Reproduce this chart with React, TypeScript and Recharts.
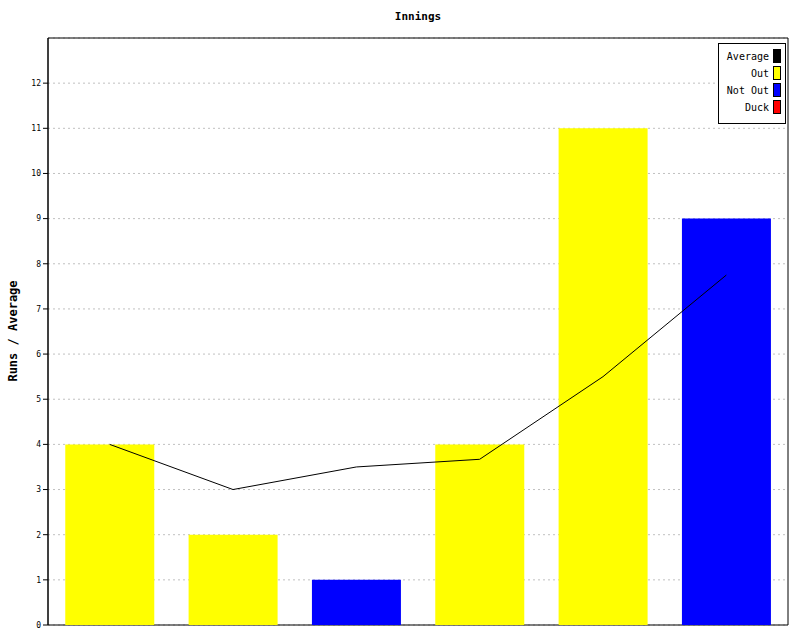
import React from "react";
import { ComposedChart, Bar, Line, XAxis, YAxis, CartesianGrid, Cell, ReferenceArea } from "recharts";

const innings = ["1", "2", "3", "4", "5", "6"];
const runs = [4, 2, 1, 4, 11, 9];
const notOut = [false, false, true, false, false, true];
const average = [4, 3, 3.5, 3.67, 5.5, 7.75];
const yTicks = [0, 1, 2, 3, 4, 5, 6, 7, 8, 9, 10, 11, 12];

const legendItems = [
  { label: "Average", color: "#000000" },
  { label: "Out", color: "#ffff00" },
  { label: "Not Out", color: "#0000ff" },
  { label: "Duck", color: "#ff0000" },
];

const data = innings.map((n, i) => ({ name: n, runs: runs[i], avg: average[i], notOut: notOut[i] }));

const FONT = "'DejaVu Sans Mono', monospace";

const LegendBox = () => (
  <div
    style={{
      position: "absolute",
      left: 718,
      top: 43,
      width: 66,
      height: 79,
      border: "1px solid #000",
      background: "#fff",
      fontFamily: FONT,
      fontSize: 10,
    }}
  >
    {legendItems.map((it, i) => (
      <div key={it.label} style={{ position: "absolute", top: 5 + i * 17, right: 4, display: "flex", alignItems: "center", height: 14 }}>
        <span style={{ marginRight: 4, color: "#000" }}>{it.label}</span>
        <span style={{ display: "inline-block", width: 6, height: 12, background: it.color, border: "1px solid #000" }} />
      </div>
    ))}
  </div>
);

export default function App() {
  return (
    <div style={{ position: "absolute", left: 0, top: 0, width: 800, height: 640, background: "#fff" }}>
      <div style={{ position: "absolute", left: 48, width: 740, top: 10, textAlign: "center", fontFamily: FONT, fontWeight: "bold", fontSize: 11 }}>
        Innings
      </div>
      <div
        style={{
          position: "absolute",
          left: 13,
          top: 331,
          transform: "translate(-50%, -50%) rotate(-90deg)",
          fontFamily: FONT,
          fontWeight: "bold",
          fontSize: 12,
          whiteSpace: "nowrap",
        }}
      >
        Runs / Average
      </div>
      <ComposedChart
        width={800}
        height={640}
        data={data}
        margin={{ top: 38, right: 12, bottom: 15, left: 0 }}
        barCategoryGap="14%"
      >
        <CartesianGrid horizontal vertical={false} stroke="#c0c0c0" strokeDasharray="2 3" />
        <XAxis dataKey="name" height={0} tick={false} tickLine={false} axisLine={{ stroke: "#000" }} />
        <YAxis
          width={48}
          domain={[0, 13]}
          ticks={yTicks}
          interval={0}
          tickSize={5}
          tickLine={{ stroke: "#000" }}
          axisLine={{ stroke: "#000" }}
          tick={{ fontFamily: FONT, fontSize: 8, fill: "#000" }}
        />
        <ReferenceArea y1={0} y2={13} fill="none" stroke="#000" ifOverflow="visible" />
        <Bar dataKey="runs" isAnimationActive={false}>
          {data.map((d, i) => (
            <Cell key={i} fill={d.notOut ? "#0000ff" : "#ffff00"} />
          ))}
        </Bar>
        <Line dataKey="avg" type="linear" stroke="#000" strokeWidth={1} dot={false} isAnimationActive={false} />
      </ComposedChart>
      <LegendBox />
    </div>
  );
}
